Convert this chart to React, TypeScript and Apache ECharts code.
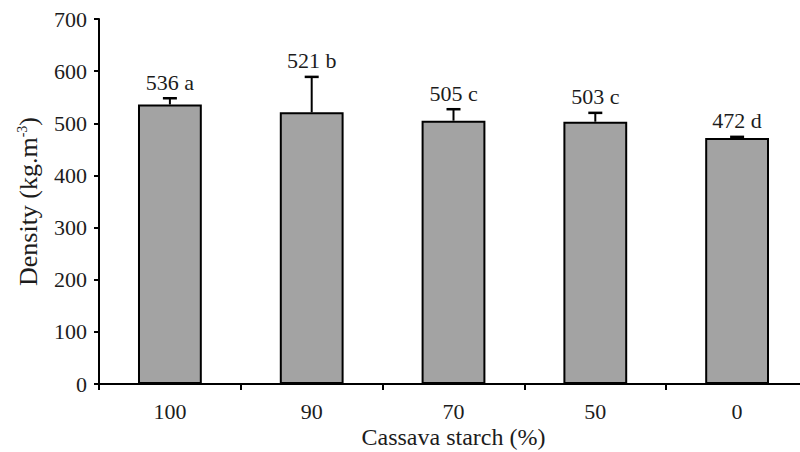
import React, { useEffect, useRef } from "react";
import * as echarts from "echarts";

const categories = ["100", "90", "70", "50", "0"];
const density = [536, 521, 505, 503, 472];
const errors = [12, 68, 22, 17, 2];
const letters = ["a", "b", "c", "c", "d"];

const FONT = "'Liberation Serif', 'Times New Roman', serif";
const TXT = "#1c1c1c";

export default function App() {
  const ref = useRef<HTMLDivElement>(null);
  useEffect(() => {
    if (!ref.current) return;
    const chart = echarts.init(ref.current, undefined, { renderer: "svg" });
    const errData = density.map((v, i) => [i, v, errors[i]]);
    chart.setOption({
      animation: false,
      backgroundColor: "#ffffff",
      grid: { left: 99, right: -8, top: 19, bottom: 68, containLabel: false, outerBoundsMode: "none" },
      xAxis: {
        type: "category",
        data: categories,
        name: "Cassava starch (%)",
        nameLocation: "middle",
        nameGap: 40,
        nameMoveOverlap: false,
        nameTextStyle: { fontFamily: FONT, fontSize: 24, color: TXT, lineHeight: 26 },
        axisLine: { lineStyle: { color: "#000", width: 2 } },
        axisTick: { show: true, length: 6, lineStyle: { color: "#000", width: 2 }, alignWithLabel: false },
        axisLabel: { fontFamily: FONT, fontSize: 22, color: TXT, margin: 16, lineHeight: 22 },
      },
      yAxis: {
        type: "value",
        min: 0,
        max: 700,
        interval: 100,
        name: "{n|Density (kg.m}{s|-3}{n|)}",
        nameLocation: "middle",
        nameGap: 58,
        nameRotate: 90,
        nameMoveOverlap: false,
        nameTextStyle: {
          rich: {
            n: { fontFamily: FONT, fontSize: 26, color: TXT },
            s: { fontFamily: FONT, fontSize: 14, color: TXT, verticalAlign: "top", padding: [0, 0, 10, 0] },
          },
        },
        axisLine: { show: true, lineStyle: { color: "#000", width: 2 } },
        axisTick: { show: true, length: 5, lineStyle: { color: "#000", width: 2 } },
        axisLabel: { fontFamily: FONT, fontSize: 22, color: TXT, margin: 12 },
        splitLine: { show: false },
      },
      series: [
        {
          type: "bar",
          data: density,
          barWidth: "45%",
          itemStyle: { color: "#a3a3a3", borderColor: "#000", borderWidth: 2 },
        },
        {
          type: "custom",
          data: errData,
          z: 10,
          renderItem: (params: any, api: any) => {
            const idx = api.value(0);
            const v = api.value(1);
            const e = api.value(2);
            const base = api.coord([idx, v]);
            const top = api.coord([idx, v + e]);
            const cap = 7;
            return {
              type: "group",
              children: [
                { type: "line", shape: { x1: base[0], y1: base[1], x2: top[0], y2: top[1] }, style: { stroke: "#000", lineWidth: 2 } },
                { type: "line", shape: { x1: top[0] - cap, y1: top[1], x2: top[0] + cap, y2: top[1] }, style: { stroke: "#000", lineWidth: 2.5 } },
                {
                  type: "text",
                  x: top[0],
                  y: top[1] - 5,
                  style: {
                    text: `${density[idx]} ${letters[idx]}`,
                    fontFamily: FONT,
                    fontSize: 22,
                    fill: TXT,
                    align: "center",
                    verticalAlign: "bottom",
                  },
                },
              ],
            };
          },
        },
      ],
    });
    return () => chart.dispose();
  }, []);
  return (
    <div style={{ position: "absolute", left: 0, top: 0, width: 800, height: 452 }}>
      <div ref={ref} style={{ width: 800, height: 452 }} />
    </div>
  );
}
